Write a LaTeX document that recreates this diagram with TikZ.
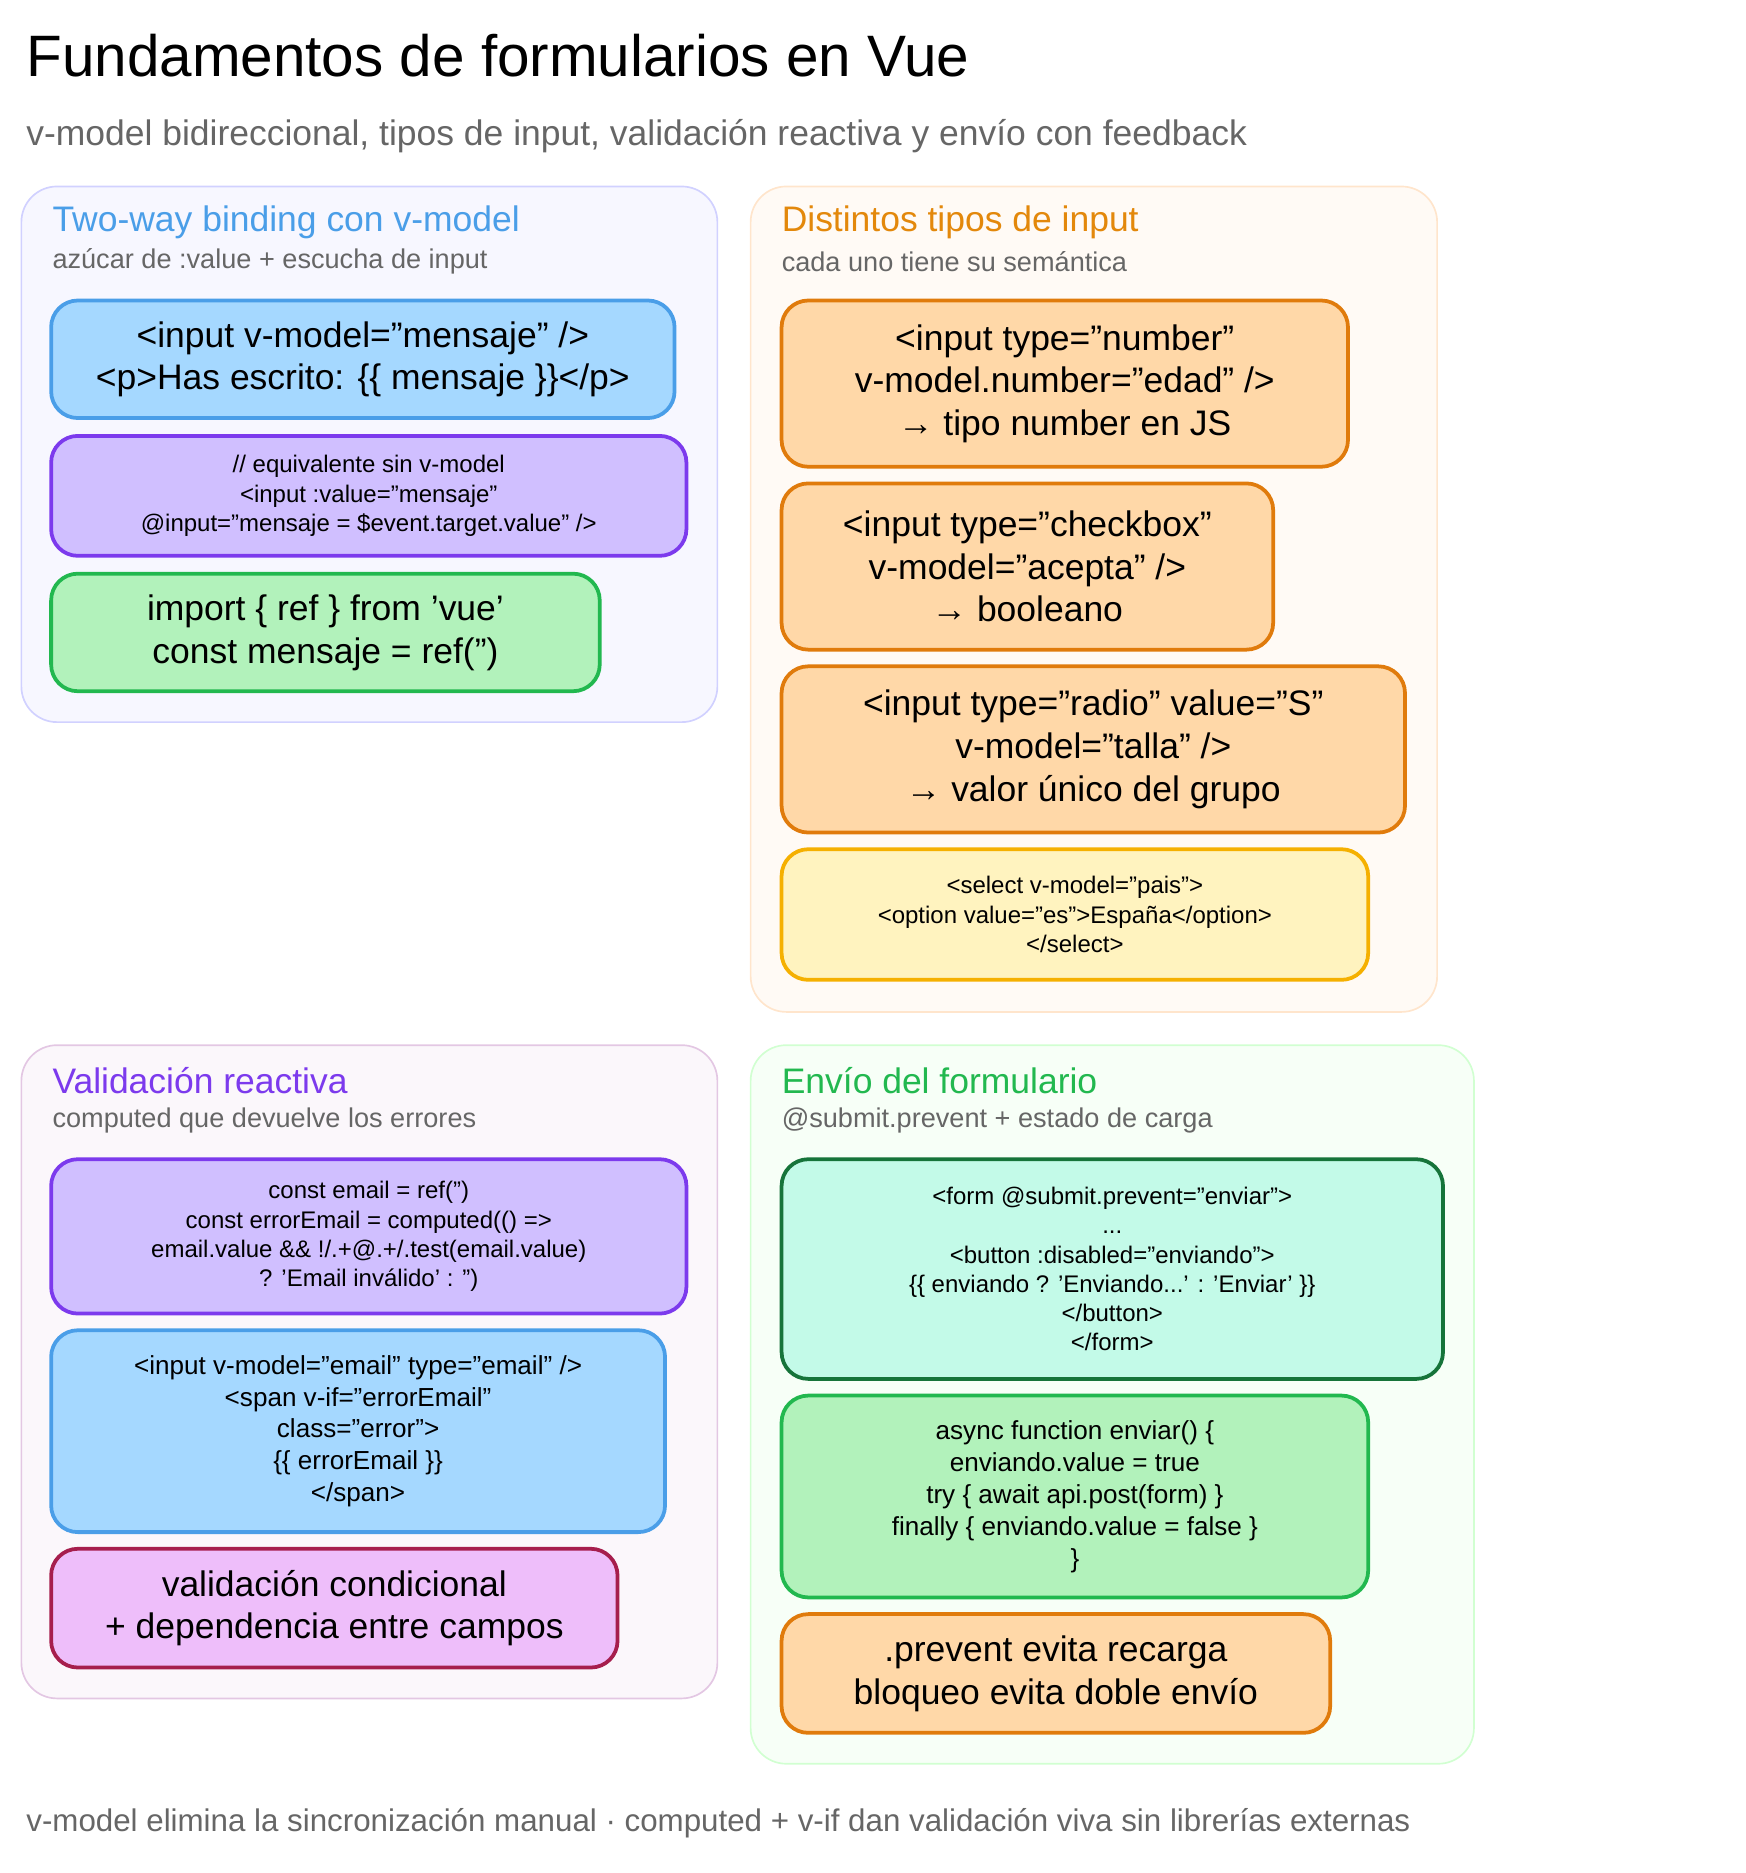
\documentclass[tikz,border=0pt]{standalone}
\usepackage{fontspec}
\setmainfont{Liberation Sans}
\usetikzlibrary{positioning}
\definecolor{bluefill}{HTML}{A5D8FF}\definecolor{bluedraw}{HTML}{4A9EE8}
\definecolor{purpfill}{HTML}{D0BFFF}\definecolor{purpdraw}{HTML}{7C3AED}
\definecolor{grnfill}{HTML}{B2F2BB}\definecolor{grndraw}{HTML}{22B84F}
\definecolor{orgfill}{HTML}{FFD8A8}\definecolor{orgdraw}{HTML}{E07B0C}
\definecolor{yelfill}{HTML}{FFF3BF}\definecolor{yeldraw}{HTML}{F5B000}
\definecolor{pinkfill}{HTML}{EEBEFA}\definecolor{pinkdraw}{HTML}{A61E4D}
\definecolor{tealfill}{HTML}{C3FAE8}\definecolor{tealdraw}{HTML}{16743A}
\definecolor{txtgray}{HTML}{666666}
\tikzset{%
  % panels and boxes
      panel/.style = {rounded corners=0.6cm, line width=0.8pt},
       base/.style = {rectangle, rounded corners=0.45cm, line width=1.8pt,
                      align=center, text=black, inner sep=2pt},
     bluebox/.style = {base, fill=bluefill, draw=bluedraw},
     purpbox/.style = {base, fill=purpfill, draw=purpdraw},
      grnbox/.style = {base, fill=grnfill, draw=grndraw},
      orgbox/.style = {base, fill=orgfill, draw=orgdraw},
      yelbox/.style = {base, fill=yelfill, draw=yeldraw},
     pinkbox/.style = {base, fill=pinkfill, draw=pinkdraw},
     tealbox/.style = {base, fill=tealfill, draw=tealdraw},
       big/.style = {font=\fontsize{17}{20.5}\selectfont},
       mid/.style = {font=\fontsize{12.5}{15.3}\selectfont},
     small/.style = {font=\fontsize{11.5}{14}\selectfont},
    ptitle/.style = {anchor=west, font=\fontsize{17}{20}\selectfont},
      psub/.style = {anchor=west, text=txtgray, font=\fontsize{13}{16}\selectfont},
}
\begin{document}
\begin{tikzpicture}[x=0.02cm, y=-0.02cm]
  \useasboundingbox (0,0) rectangle (1470,1577);
  % headings
  \node (title) [anchor=west, font=\fontsize{28}{32}\selectfont] at (16,47) {Fundamentos de formularios en Vue};
  \node (subtitle) [anchor=west, text=txtgray, font=\fontsize{17}{20}\selectfont] at (16,115)
    {v-model bidireccional, tipos de input, validación reactiva y envío con feedback};
  % panels
  \draw[panel, fill=blue!3, draw=blue!18] (18,157) rectangle (604,608);
  \draw[panel, fill=orange!4, draw=orange!20] (632,157) rectangle (1210,852);
  \draw[panel, fill=violet!3, draw=violet!22] (18,880) rectangle (604,1430);
  \draw[panel, fill=green!3, draw=green!18] (632,880) rectangle (1241,1485);

  % Two-way binding
  \node (t1) [ptitle, text=bluedraw] at (38,187) {Two-way binding con v-model};
  \node (s1) [psub] at (38,220) {azúcar de :value + escucha de input};
  \node (b1) [bluebox, big, minimum width=10.5cm, minimum height=1.98cm] at (305.5,302.5)
    {<input v-model="mensaje" />\\<p>Has escrito: \{\{ mensaje \}\}</p>};
  \node (b2) [purpbox, small, minimum width=10.7cm, minimum height=2.02cm] at (310.5,417.5)
    {// equivalente sin v-model\\<input :value="mensaje"\\@input="mensaje = \$event.target.value" />};
  \node (b3) [grnbox, big, minimum width=9.24cm, minimum height=1.98cm] at (274,532.5)
    {import \{ ref \} from 'vue'\\const mensaje = ref('')};

  % Distintos tipos de input
  \node (t2) [ptitle, text=orgdraw!90!yellow] at (652,187) {Distintos tipos de input};
  \node (s2) [psub] at (652,220) {cada uno tiene su semántica};
  \node (c1) [orgbox, big, minimum width=9.54cm, minimum height=2.8cm] at (896.5,323)
    {<input type="number"\\v-model.number="edad" />\\→ tipo number en JS};
  \node (c2) [orgbox, big, minimum width=8.28cm, minimum height=2.8cm] at (865,477)
    {<input type="checkbox"\\v-model="acepta" />\\→ booleano};
  \node (c3) [orgbox, big, minimum width=10.5cm, minimum height=2.8cm] at (920.5,631)
    {<input type="radio" value="S"\\v-model="talla" />\\→ valor único del grupo};
  \node (c4) [yelbox, small, minimum width=9.88cm, minimum height=2.2cm] at (905,770)
    {<select v-model="pais">\\<option value="es">España</option>\\</select>};

  % Validación reactiva
  \node (t3) [ptitle, text=purpdraw] at (38,910) {Validación reactiva};
  \node (s3) [psub] at (38,943) {computed que devuelve los errores};
  \node (d1) [purpbox, small, minimum width=10.7cm, minimum height=2.6cm] at (310.5,1041)
    {const email = ref('')\\const errorEmail = computed(() =>\\email.value \&\& !/.+@.+/.test(email.value)\\? 'Email inválido' : '')};
  \node (d2) [bluebox, mid, minimum width=10.34cm, minimum height=3.4cm] at (301.5,1205)
    {<input v-model="email" type="email" />\\<span v-if="errorEmail"\\class="error">\\\{\{ errorEmail \}\}\\</span>};
  \node (d3) [pinkbox, big, minimum width=9.54cm, minimum height=2cm] at (281.5,1354)
    {validación condicional\\+ dependencia entre campos};

  % Envío del formulario
  \node (t4) [ptitle, text=grndraw] at (652,910) {Envío del formulario};
  \node (s4) [psub] at (652,943) {@submit.prevent + estado de carga};
  \node (e1) [tealbox, small, minimum width=11.14cm, minimum height=3.7cm] at (936.5,1068.5)
    {<form @submit.prevent="enviar">\\...\\<button :disabled="enviando">\\\{\{ enviando ? 'Enviando...' : 'Enviar' \}\}\\</button>\\</form>};
  \node (e2) [grnbox, mid, minimum width=9.88cm, minimum height=3.4cm] at (905,1260)
    {async function enviar() \{\\enviando.value = true\\try \{ await api.post(form) \}\\finally \{ enviando.value = false \}\\\}};
  \node (e3) [orgbox, big, minimum width=9.24cm, minimum height=2cm] at (889,1409)
    {.prevent evita recarga\\bloqueo evita doble envío};

  % footer
  \node (foot) [anchor=west, text=txtgray, font=\fontsize{15}{18}\selectfont] at (16,1535)
    {v-model elimina la sincronización manual · computed + v-if dan validación viva sin librerías externas};
\end{tikzpicture}
\end{document}
